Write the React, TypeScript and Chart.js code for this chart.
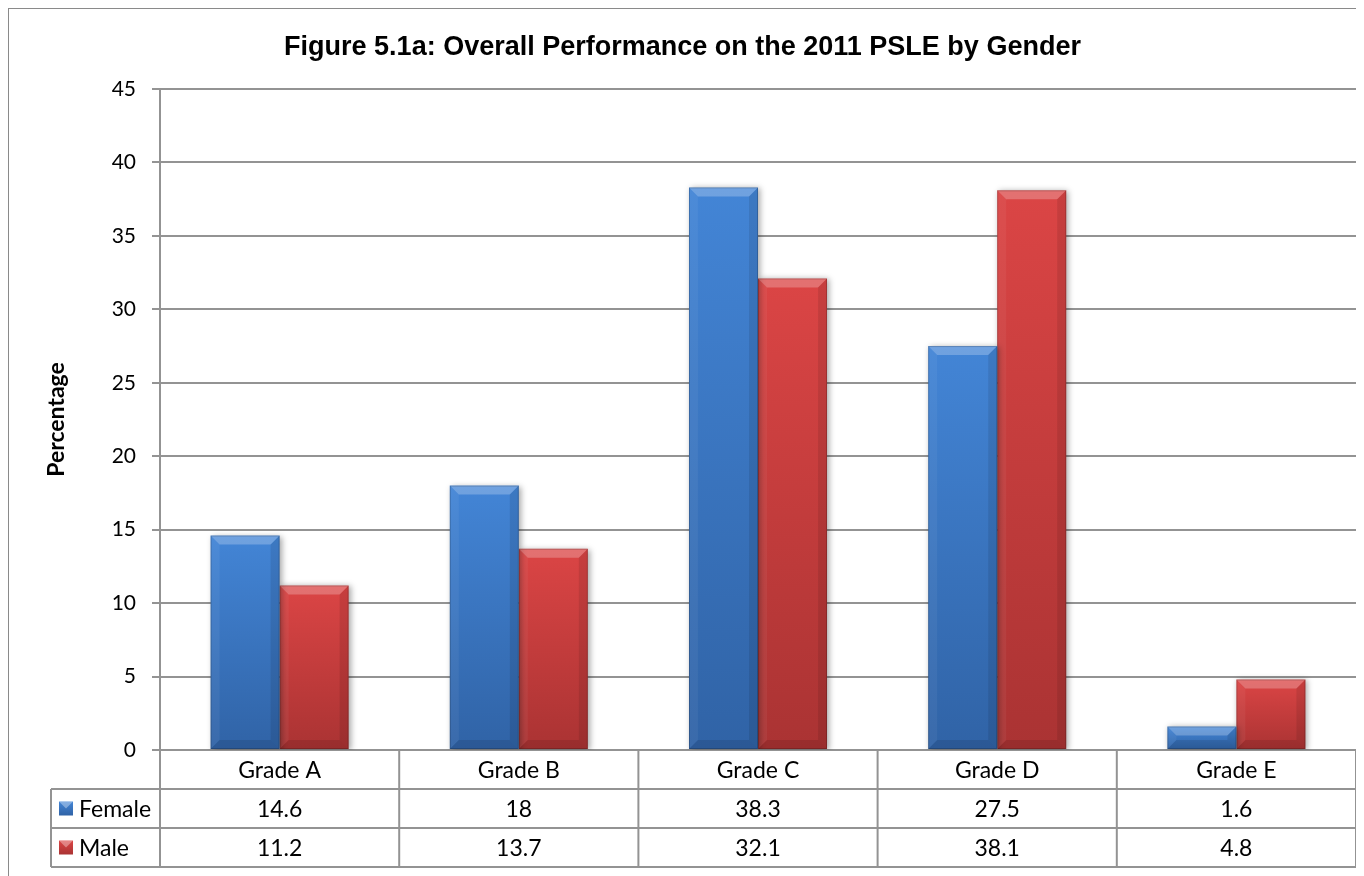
import React, { useEffect, useRef } from 'react';
import { Chart, registerables } from 'chart.js';

Chart.register(...registerables);

const TITLE = 'Figure 5.1a: Overall Performance on the 2011 PSLE by Gender';
const Y_TITLE = 'Percentage';
const categories = ['Grade A', 'Grade B', 'Grade C', 'Grade D', 'Grade E'];
const seriesNames = ['Female', 'Male'];
const femaleValues = [14.6, 18, 38.3, 27.5, 1.6];
const maleValues = [11.2, 13.7, 32.1, 38.1, 4.8];
const yMin = 0;
const yMax = 45;
const yStep = 5;

const BLUE_TOP = '#4385d6';
const BLUE_BOTTOM = '#3063a6';
const RED_TOP = '#db4545';
const RED_BOTTOM = '#aa3333';
const GRID = '#939393';
const FONT = 'Lato, "Noto Sans", sans-serif';

const ROW_H = 39;
const LEGEND_LEFT = 42;

const makeGrad = (top: string, bottom: string) => (c: any) => {
  const chart = c.chart;
  const ys = chart && chart.scales && chart.scales.y;
  if (!ys || c.raw == null || !chart.chartArea) return top;
  const yTop = ys.getPixelForValue(c.raw);
  const yBase = ys.getPixelForValue(0);
  if (!isFinite(yTop) || !isFinite(yBase) || yTop === yBase) return top;
  const g = chart.ctx.createLinearGradient(0, yTop, 0, yBase);
  g.addColorStop(0, top);
  g.addColorStop(1, bottom);
  return g;
};

const bevelPlugin = {
  id: 'bevel',
  beforeDatasetsDraw(chart: any) {
    const ctx = chart.ctx;
    ctx.save();
    ctx.shadowColor = 'rgba(0,0,0,0.35)';
    ctx.shadowBlur = 6;
    ctx.shadowOffsetX = 2;
    ctx.shadowOffsetY = 1;
  },
  afterDatasetsDraw(chart: any) {
    const ctx = chart.ctx;
    ctx.restore();
    ctx.save();
    chart.data.datasets.forEach((_ds: any, di: number) => {
      const meta = chart.getDatasetMeta(di);
      meta.data.forEach((bar: any) => {
        const p = bar.getProps(['x', 'y', 'width', 'base'], true);
        const l = p.x - p.width / 2;
        const r = p.x + p.width / 2;
        const t = Math.min(p.y, p.base);
        const b = Math.max(p.y, p.base);
        const h = b - t;
        const d = Math.min(9, h / 2, p.width / 2);
        const poly = (pts: number[][], fill: string) => {
          ctx.beginPath();
          ctx.moveTo(pts[0][0], pts[0][1]);
          for (let i = 1; i < pts.length; i++) ctx.lineTo(pts[i][0], pts[i][1]);
          ctx.closePath();
          ctx.fillStyle = fill;
          ctx.fill();
        };
        poly([[l, t], [r, t], [r - d, t + d], [l + d, t + d]], 'rgba(255,255,255,0.24)');
        poly([[l, t], [l + d, t + d], [l + d, b - d], [l, b]], 'rgba(255,255,255,0.05)');
        poly([[r, t], [r - d, t + d], [r - d, b - d], [r, b]], 'rgba(0,0,0,0.09)');
        poly([[l, b], [l + d, b - d], [r - d, b - d], [r, b]], 'rgba(0,0,0,0.10)');
        ctx.strokeStyle = 'rgba(0,0,0,0.18)';
        ctx.lineWidth = 1;
        ctx.strokeRect(l + 0.5, t + 0.5, p.width - 1, h - 1);
      });
    });
    ctx.restore();
  },
};

const tablePlugin = {
  id: 'dataTable',
  afterDraw(chart: any) {
    const ctx = chart.ctx;
    const { left, right, bottom } = chart.chartArea;
    const xs = chart.scales.x;
    const labels: string[] = chart.data.labels;
    const n = labels.length;
    const bounds: number[] = [];
    for (let i = 0; i <= n; i++) {
      if (i === 0) bounds.push(left);
      else if (i === n) bounds.push(right);
      else bounds.push((xs.getPixelForValue(i - 1) + xs.getPixelForValue(i)) / 2);
    }
    ctx.save();
    ctx.strokeStyle = GRID;
    ctx.lineWidth = 2;
    const line = (x1: number, y1: number, x2: number, y2: number) => {
      ctx.beginPath();
      ctx.moveTo(x1, y1);
      ctx.lineTo(x2, y2);
      ctx.stroke();
    };
    const nRows = chart.data.datasets.length + 1;
    const tableBottom = bottom + nRows * ROW_H;
    for (let r = 1; r <= nRows; r++) {
      const y = bottom + r * ROW_H;
      line(LEGEND_LEFT, y, right, y);
    }
    bounds.forEach((x) => line(x, bottom, x, tableBottom));
    line(LEGEND_LEFT, bottom + ROW_H, LEGEND_LEFT, tableBottom);

    ctx.fillStyle = '#000';
    ctx.font = '23px ' + FONT;
    ctx.textAlign = 'center';
    ctx.textBaseline = 'middle';
    labels.forEach((lab, i) => {
      ctx.fillText(lab, xs.getPixelForValue(i), bottom + ROW_H / 2 + 1);
    });
    chart.data.datasets.forEach((ds: any, di: number) => {
      const cy = bottom + ROW_H * (di + 1) + ROW_H / 2 + 1;
      ds.data.forEach((v: number, i: number) => {
        ctx.textAlign = 'center';
        ctx.fillText(String(v), xs.getPixelForValue(i), cy);
      });
      const kx = LEGEND_LEFT + 8;
      const ky = cy - 8;
      const k = 14;
      const g = ctx.createLinearGradient(0, ky, 0, ky + k);
      g.addColorStop(0, ds.keyTop);
      g.addColorStop(1, ds.keyBottom);
      ctx.fillStyle = g;
      ctx.fillRect(kx, ky, k, k);
      ctx.fillStyle = 'rgba(255,255,255,0.35)';
      ctx.beginPath();
      ctx.moveTo(kx, ky);
      ctx.lineTo(kx + k, ky);
      ctx.lineTo(kx + k / 2, ky + k / 2);
      ctx.closePath();
      ctx.fill();
      ctx.fillStyle = '#000';
      ctx.textAlign = 'left';
      ctx.fillText(ds.label, kx + k + 6, cy);
    });
    ctx.restore();
  },
};

export default function App() {
  const ref = useRef<HTMLCanvasElement | null>(null);
  useEffect(() => {
    if (!ref.current) return;
    const chart = new Chart(ref.current, {
      type: 'bar',
      data: {
        labels: categories,
        datasets: [
          {
            label: seriesNames[0],
            data: femaleValues,
            backgroundColor: makeGrad(BLUE_TOP, BLUE_BOTTOM),
            borderWidth: 0,
            keyTop: BLUE_TOP,
            keyBottom: BLUE_BOTTOM,
          } as any,
          {
            label: seriesNames[1],
            data: maleValues,
            backgroundColor: makeGrad(RED_TOP, RED_BOTTOM),
            borderWidth: 0,
            keyTop: RED_TOP,
            keyBottom: RED_BOTTOM,
          } as any,
        ],
      },
      options: {
        responsive: false,
        animation: false,
        devicePixelRatio: 1,
        layout: { padding: { left: 0, top: 0, right: 8, bottom: 9 } },
        datasets: { bar: { categoryPercentage: 0.577, barPercentage: 1 } },
        plugins: {
          legend: { display: false },
          tooltip: { enabled: false },
          title: {
            display: true,
            text: TITLE,
            color: '#000',
            font: { family: '"Liberation Sans", Arial, sans-serif', size: 27, weight: 'bold', lineHeight: 1.2 },
            padding: { top: 22, bottom: 25.6 },
          },
        },
        scales: {
          x: {
            grid: { display: false },
            border: { display: true, color: GRID, width: 2 },
            ticks: { display: false },
            afterFit: (s: any) => {
              s.height = ROW_H * 3;
            },
          },
          y: {
            min: yMin,
            max: yMax,
            ticks: {
              stepSize: yStep,
              padding: 16,
              color: '#000',
              font: { family: FONT, size: 21 },
            },
            grid: { color: GRID, lineWidth: 2, tickLength: 8, drawTicks: true },
            border: { display: true, color: GRID, width: 2 },
            title: {
              display: true,
              text: Y_TITLE,
              color: '#000',
              font: { family: FONT, size: 23, weight: 'bold', lineHeight: 1.2 },
              padding: { top: 34.2, bottom: 0 },
            },
            afterFit: (s: any) => {
              s.width = 151;
            },
          },
        },
      } as any,
      plugins: [bevelPlugin, tablePlugin],
    });
    return () => chart.destroy();
  }, []);
  return (
    <>
      <style>{'html,body{overflow:hidden;}'}</style>
      <div
        style={{
          borderTop: '1px solid #8a8a8a',
          borderLeft: '1px solid #8a8a8a',
          width: 1356,
          height: 868,
          background: '#fff',
        }}
      >
        <canvas ref={ref} width={1355} height={867} style={{ display: 'block' }} />
      </div>
    </>
  );
}
